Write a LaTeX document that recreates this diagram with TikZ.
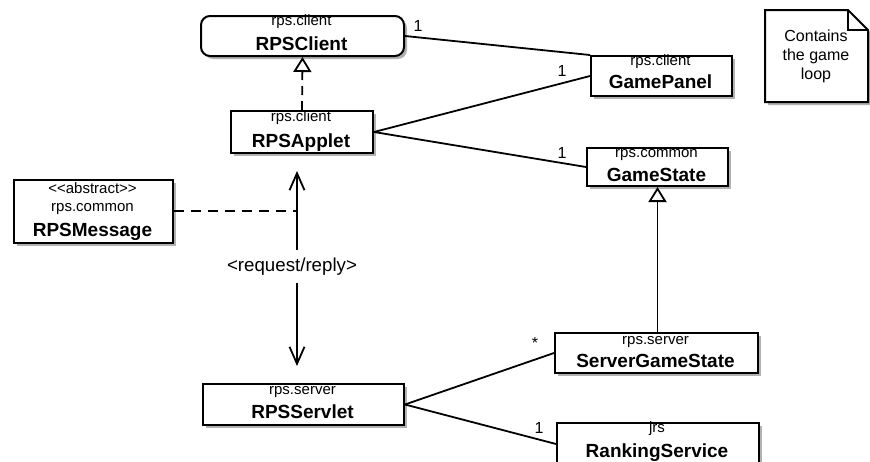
\documentclass[tikz,border=0pt]{standalone}
\usepackage{fontspec}
\setmainfont{Liberation Sans}
\usetikzlibrary{arrows.meta,shadows,calc}
\newcommand\pkgfont{\fontsize{15}{17}\selectfont}
\newcommand\clsfont{\fontsize{19}{22}\selectfont\bfseries}
\begin{document}
\begin{tikzpicture}[x=1pt,y=-1pt,
  cls/.style={draw, line width=2pt, fill=white, inner sep=0pt, anchor=north west,
    drop shadow={shadow xshift=3pt, shadow yshift=-3pt, fill=black, opacity=0.3}},
  pkg/.style={font=\pkgfont, inner sep=0pt, anchor=base},
  cname/.style={font=\clsfont, inner sep=0pt, anchor=base},
  lnk/.style={line width=1.8pt},
  gen/.style={line width=1.8pt, -{Triangle[open,length=15pt,width=18pt,line width=1.8pt]}},
  mult/.style={font=\fontsize{16}{18}\selectfont, inner sep=0pt},
  reqarrow/.style={line width=1.8pt, -{Straight Barb[length=17pt,width=15pt,line width=1.8pt]}}
]
\useasboundingbox (0,0) rectangle (870,461);

% RPSClient
\node[cls, rounded corners=9pt, minimum width=203pt, minimum height=40pt] (RPSClient) at (200,15) {};
\node[pkg] (RPSClientPkg) at (301.5,25.5) {rps.client};
\node[cname] (RPSClientName) at (301.5,50) {RPSClient};

% RPSApplet
\node[cls, minimum width=142pt, minimum height=42pt] (RPSApplet) at (230,110) {};
\node[pkg] (RPSAppletPkg) at (301,121) {rps.client};
\node[cname] (RPSAppletName) at (301,147) {RPSApplet};

% GamePanel
\node[cls, minimum width=141pt, minimum height=40pt] (GamePanel) at (590,55) {};
\node[pkg] (GamePanelPkg) at (660.5,65) {rps.client};
\node[cname] (GamePanelName) at (660.5,88) {GamePanel};

% GameState
\node[cls, minimum width=141pt, minimum height=38pt] (GameState) at (586,147) {};
\node[pkg] (GameStatePkg) at (656.5,157) {rps.common};
\node[cname] (GameStateName) at (656.5,181) {GameState};

% RPSMessage
\node[cls, minimum width=159pt, minimum height=63pt] (RPSMessage) at (13,179) {};
\node[pkg] (RPSMessageSt) at (92.5,193.5) {\textless{}\textless{}abstract\textgreater{}\textgreater{}};
\node[pkg] (RPSMessagePkg) at (92.5,211.5) {rps.common};
\node[cname] (RPSMessageName) at (92.5,236) {RPSMessage};

% ServerGameState
\node[cls, minimum width=203pt, minimum height=40pt] (ServerGameState) at (554,332) {};
\node[pkg] (ServerGameStatePkg) at (655.5,344) {rps.server};
\node[cname] (ServerGameStateName) at (655.5,367) {ServerGameState};

% RPSServlet
\node[cls, minimum width=201pt, minimum height=41pt] (RPSServlet) at (202,383) {};
\node[pkg] (RPSServletPkg) at (302.5,394) {rps.server};
\node[cname] (RPSServletName) at (302.5,418) {RPSServlet};

% RankingService
\node[cls, minimum width=202pt, minimum height=42pt] (RankingService) at (556,422) {};
\node[pkg] (RankingServicePkg) at (657,432) {jrs};
\node[cname] (RankingServiceName) at (657,457) {RankingService};

% Note
\fill[black, opacity=0.3] (768,13) -- (851,13) -- (871,33) -- (871,105) -- (768,105) -- cycle;
\draw[line width=2pt, fill=white] (765,10) -- (848,10) -- (868,30) -- (868,102) -- (765,102) -- cycle;
\draw[line width=1.6pt] (848,10) -- (848,30) -- (868,30);
\node[font=\fontsize{16}{19}\selectfont, align=center, inner sep=0pt, anchor=north] (Note) at (816,30) {Contains\\the game\\loop};

% associations
\draw[lnk] (RPSClient.east) -- (GamePanel.north west);
\draw[lnk] (RPSApplet.east) -- (GamePanel.west);
\draw[lnk] (RPSApplet.east) -- (GameState.west);
\draw[lnk] (RPSServlet.east) -- (ServerGameState.west);
\draw[lnk] (RPSServlet.east) -- (RankingService.west);

\node[mult] (m1) at (418,26) {1};
\node[mult] (m2) at (562,71) {1};
\node[mult] (m3) at (562,153) {1};
\node[mult] (m4) at (535,343) {*};
\node[mult] (m5) at (539,428) {1};

% realization RPSApplet -> RPSClient
\draw[gen, dash pattern=on 9pt off 6pt] (RPSApplet.north) -- (RPSClient.south);
% generalization ServerGameState -> GameState
\draw[gen] (ServerGameState.north -| GameState.south) -- (GameState.south);

% request/reply
\coordinate (ReqTop) at (297,171);
\coordinate (ReqBot) at (297,366);
\node[font=\fontsize{18.7}{21}\selectfont, inner sep=0pt] (Req) at (292,267) {\textless{}request/reply\textgreater{}};
\draw[reqarrow] (297,250) -- (ReqTop);
\draw[reqarrow] (297,283) -- (ReqBot);
\coordinate (MsgJoin) at (297,211);
\draw[line width=1.8pt, dash pattern=on 10pt off 7pt] (RPSMessage.east |- MsgJoin) -- (MsgJoin);
\end{tikzpicture}
\end{document}
